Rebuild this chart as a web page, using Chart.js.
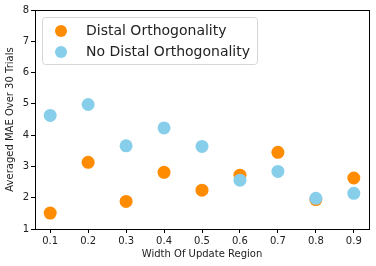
<!DOCTYPE html>
<html>
<head>
<meta charset="utf-8">
<script src="https://cdn.jsdelivr.net/npm/chart.js@4.4.1/dist/chart.umd.min.js"></script>
<style>
  html, body { margin: 0; padding: 0; background: #fff; }
  #wrap { width: 376px; height: 266px; }
</style>
</head>
<body>
<div id="wrap"><canvas id="mae"></canvas></div>
<script>
// values
const widths = [0.1, 0.2, 0.3, 0.4, 0.5, 0.6, 0.7, 0.8, 0.9];
const distalMae = [1.51, 3.13, 1.88, 2.81, 2.24, 2.72, 3.45, 1.94, 2.63];
const noDistalMae = [4.63, 4.98, 3.66, 4.23, 3.64, 2.56, 2.84, 1.98, 2.14];
const xTicks = [0.1, 0.2, 0.3, 0.4, 0.5, 0.6, 0.7, 0.8, 0.9];
const yTicks = [1, 2, 3, 4, 5, 6, 7, 8];

const toPoints = (xs, ys) => xs.map((x, i) => ({ x: x, y: ys[i] }));
const font = { family: 'DejaVu Sans', size: 10 };
const ink = '#222';

// box around plot + legend inside the axes, like matplotlib
const framePlugin = {
  id: 'frame',
  afterDraw(chart) {
    const ctx = chart.ctx;
    const a = chart.chartArea;
    ctx.save();
    ctx.strokeStyle = '#000';
    ctx.lineWidth = 1;
    ctx.strokeRect(Math.round(a.left) + 0.5, Math.round(a.top) + 0.5,
      Math.round(a.right - a.left), Math.round(a.bottom - a.top));

    // legend
    const lx = a.left + 7, ly = a.top + 7, lw = 215, lh = 47;
    ctx.beginPath();
    ctx.roundRect(lx + 0.5, ly + 0.5, lw, lh, 3);
    ctx.fillStyle = 'rgba(255,255,255,0.8)';
    ctx.fill();
    ctx.strokeStyle = '#d6d6d6';
    ctx.stroke();
    ctx.font = '14px "DejaVu Sans"';
    ctx.textBaseline = 'middle';
    const rows = [chart.data.datasets[1], chart.data.datasets[0]];
    rows.forEach((ds, i) => {
      const cy = ly + 14 + i * 21;
      ctx.beginPath();
      ctx.arc(lx + 19, cy, 6, 0, Math.PI * 2);
      ctx.fillStyle = ds.backgroundColor;
      ctx.fill();
      ctx.fillStyle = ink;
      ctx.fillText(ds.label, lx + 44, cy);
    });
    ctx.restore();
  }
};

new Chart(document.getElementById('mae'), {
  type: 'scatter',
  data: {
    datasets: [
      {
        label: 'No Distal Orthogonality',
        data: toPoints(widths, noDistalMae),
        backgroundColor: '#87ceeb',
        borderWidth: 0,
        pointRadius: 6.5,
        pointHoverRadius: 6.5,
        order: 0
      },
      {
        label: 'Distal Orthogonality',
        data: toPoints(widths, distalMae),
        backgroundColor: '#ff8c00',
        borderWidth: 0,
        pointRadius: 6.5,
        pointHoverRadius: 6.5,
        order: 1
      }
    ]
  },
  options: {
    responsive: true,
    maintainAspectRatio: false,
    animation: false,
    layout: { padding: { left: 0, right: 7, top: 10, bottom: 0 } },
    plugins: {
      legend: { display: false },
      tooltip: { enabled: false }
    },
    scales: {
      x: {
        type: 'linear',
        min: 0.06,
        max: 0.94,
        afterBuildTicks: axis => { axis.ticks = xTicks.map(v => ({ value: v })); },
        afterFit: axis => { axis.height = 37; },
        ticks: {
          font: font,
          color: ink,
          padding: 2,
          maxRotation: 0,
          callback: v => v.toFixed(1)
        },
        grid: { drawOnChartArea: false, drawTicks: true, tickLength: 4, color: '#000' },
        border: { display: false },
        title: {
          display: true,
          text: 'Width Of Update Region',
          font: font,
          color: ink,
          padding: { top: 0, bottom: 6 }
        }
      },
      y: {
        min: 1,
        max: 8,
        afterBuildTicks: axis => { axis.ticks = yTicks.map(v => ({ value: v })); },
        afterFit: axis => { axis.width = 35; },
        ticks: { font: font, color: ink, padding: 2 },
        grid: { drawOnChartArea: false, drawTicks: true, tickLength: 4, color: '#000' },
        border: { display: false },
        title: {
          display: true,
          text: 'Averaged MAE Over 30 Trials',
          font: font,
          color: ink,
          padding: { top: 4, bottom: 0 }
        }
      }
    }
  },
  plugins: [framePlugin]
});
</script>
</body>
</html>
